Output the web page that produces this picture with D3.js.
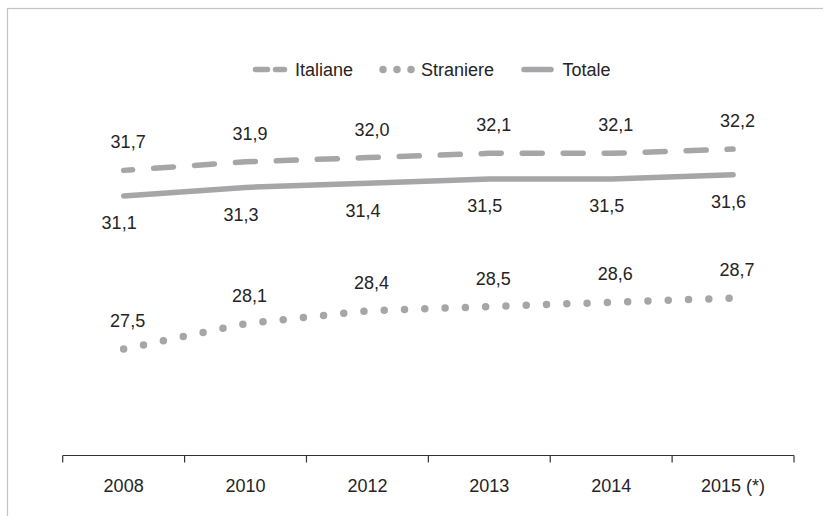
<!DOCTYPE html>
<html>
<head>
<meta charset="utf-8">
<script src="https://cdn.jsdelivr.net/npm/d3@7"></script>
<style>
  html, body { margin: 0; padding: 0; background: #fff; }
  svg { display: block; }
  text { font-family: "Liberation Sans", Arial, sans-serif; fill: #262324; }
</style>
</head>
<body>
<svg id="chart" width="823" height="516"></svg>
<script>
// Età media al parto, per cittadinanza della madre
const years = ["2008", "2010", "2012", "2013", "2014", "2015 (*)"];
const italiane = [31.7, 31.9, 32.0, 32.1, 32.1, 32.2];
const straniere = [27.5, 28.1, 28.4, 28.5, 28.6, 28.7];
const totale = [31.1, 31.3, 31.4, 31.5, 31.5, 31.6];
const seriesNames = ["Italiane", "Straniere", "Totale"];

const lineColor = "#a6a6a9";
const fmt = v => d3.format(".1f")(v).replace(".", ",");

const svg = d3.select("#chart");

// outer frame
svg.append("rect")
  .attr("x", 7.5).attr("y", 8.5)
  .attr("width", 840).attr("height", 540)
  .attr("fill", "none").attr("stroke", "#c4c4c4").attr("stroke-width", 1.2);

const x = d3.scaleBand().domain(years).range([62.7, 794]);
const y = d3.scaleLinear().domain([25, 34]).range([455.5, 72.5]);
const cx = d => x(d) + x.bandwidth() / 2;

// category axis with ticks on band boundaries
const axisY = y(25);
const g = svg.append("g");
g.append("line")
  .attr("x1", x.range()[0]).attr("x2", x.range()[1])
  .attr("y1", axisY).attr("y2", axisY)
  .attr("stroke", "#333").attr("stroke-width", 1.2);
const bounds = years.map(d => x(d)).concat([x.range()[1]]);
g.selectAll("line.tick").data(bounds).join("line")
  .attr("class", "tick")
  .attr("x1", d => d).attr("x2", d => d)
  .attr("y1", axisY).attr("y2", axisY + 7)
  .attr("stroke", "#333").attr("stroke-width", 1.2);
g.selectAll("text.cat").data(years).join("text")
  .attr("class", "cat")
  .attr("x", d => cx(d)).attr("y", 492)
  .attr("text-anchor", "middle").attr("font-size", 18)
  .text(d => d);

const line = d3.line().x((d, i) => cx(years[i])).y(d => y(d));

const styles = {
  Italiane: { data: italiane, width: 5.5, dash: "20,21", offset: 11 },
  Straniere: { data: straniere, width: 7.5, dash: "0,20.3", offset: 0 },
  Totale: { data: totale, width: 5.5, dash: null, offset: 0 }
};

seriesNames.forEach(name => {
  const s = styles[name];
  svg.append("path")
    .datum(s.data)
    .attr("d", line)
    .attr("fill", "none")
    .attr("stroke", lineColor)
    .attr("stroke-width", s.width)
    .attr("stroke-linecap", "round")
    .attr("stroke-linejoin", "round")
    .attr("stroke-dasharray", s.dash)
    .attr("stroke-dashoffset", s.offset);
});

// value labels
function labels(data, dx, dy) {
  svg.append("g").selectAll("text").data(data).join("text")
    .attr("x", (d, i) => cx(years[i]) + dx)
    .attr("y", d => y(d) + dy)
    .attr("text-anchor", "middle")
    .attr("font-size", 18)
    .text(fmt);
}
labels(italiane, 4.5, -22);
labels(totale, -4.5, 33.5);
labels(straniere, 4, -22);

// legend
const leg = svg.append("g");
const ly = 69.5;
leg.append("line")
  .attr("x1", 255.5).attr("x2", 284.5).attr("y1", ly).attr("y2", ly)
  .attr("stroke", lineColor).attr("stroke-width", 5.5)
  .attr("stroke-linecap", "round").attr("stroke-dasharray", "12,8");
leg.append("text").attr("x", 295).attr("y", ly + 6.5).attr("font-size", 18).text(seriesNames[0]);
leg.append("line")
  .attr("x1", 383).attr("x2", 411.5).attr("y1", ly).attr("y2", ly)
  .attr("stroke", lineColor).attr("stroke-width", 7.5)
  .attr("stroke-linecap", "round").attr("stroke-dasharray", "0,14");
leg.append("text").attr("x", 421).attr("y", ly + 6.5).attr("font-size", 18).text(seriesNames[1]);
leg.append("line")
  .attr("x1", 524).attr("x2", 551).attr("y1", ly).attr("y2", ly)
  .attr("stroke", lineColor).attr("stroke-width", 5.5)
  .attr("stroke-linecap", "round");
leg.append("text").attr("x", 562.5).attr("y", ly + 6.5).attr("font-size", 18).text(seriesNames[2]);
</script>
</body>
</html>
